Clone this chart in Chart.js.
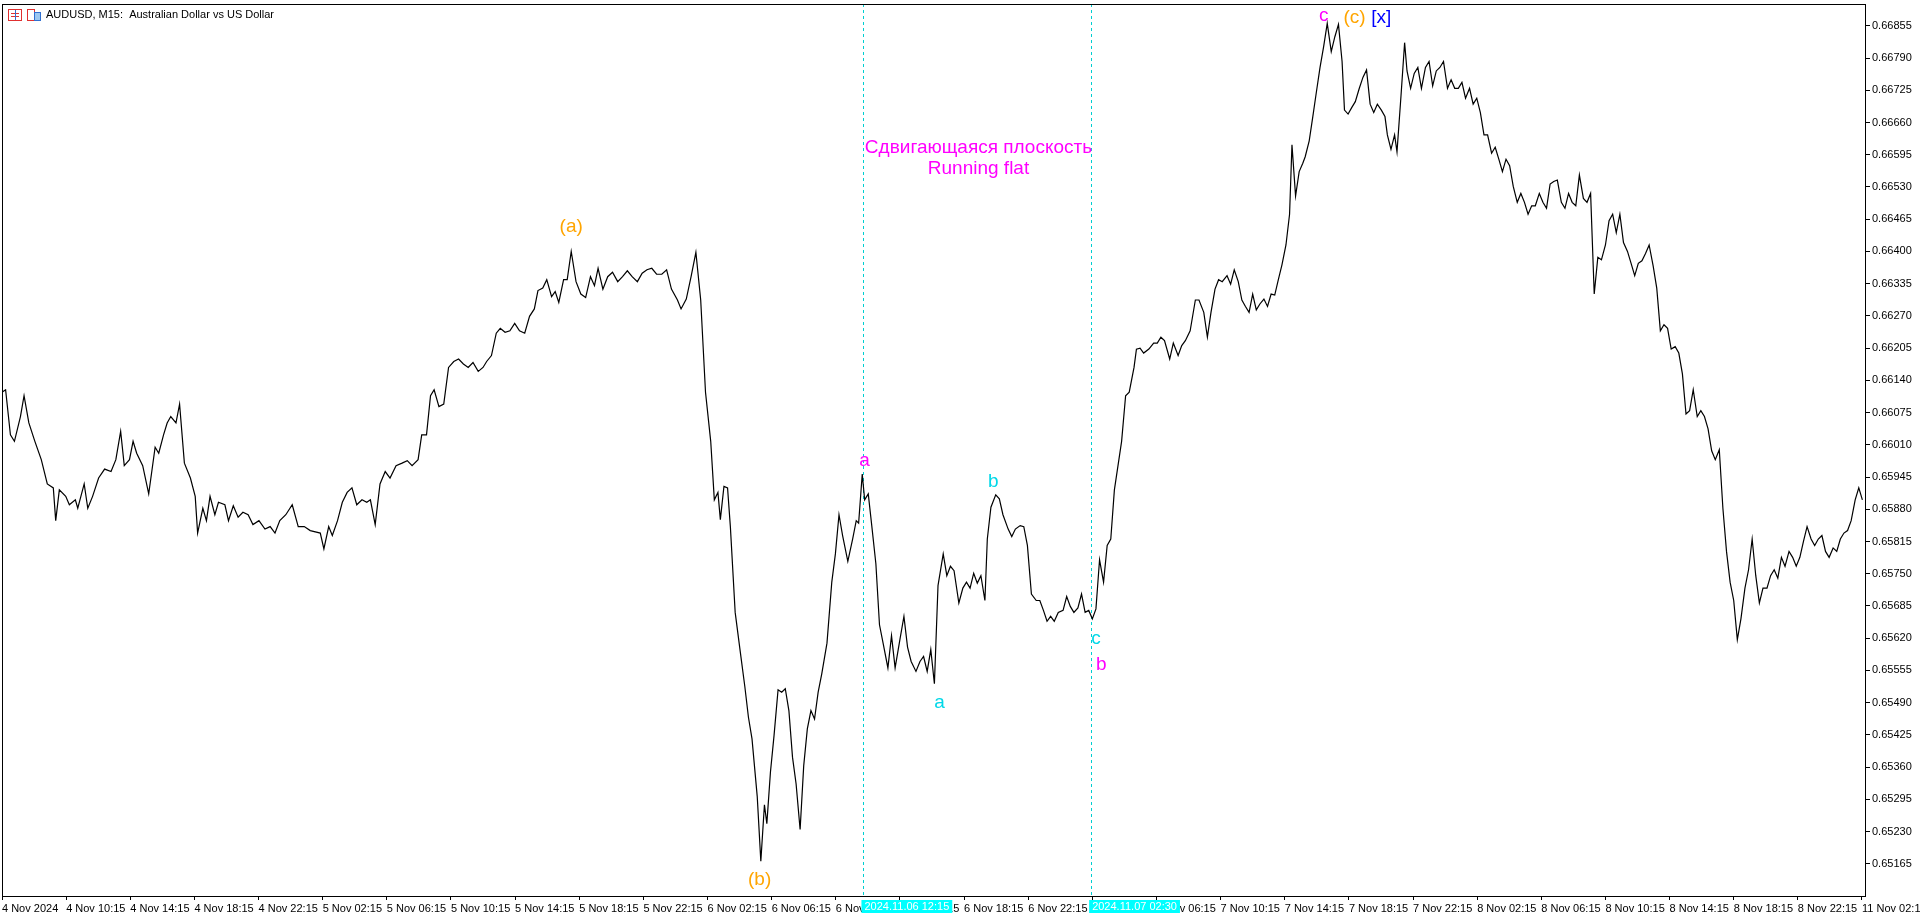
<!DOCTYPE html>
<html><head><meta charset="utf-8">
<script src="https://cdn.jsdelivr.net/npm/chart.js@4.4.1/dist/chart.umd.min.js"></script>
<style>html,body{margin:0;padding:0;background:#fff;}#wrap{width:1920px;height:920px;position:relative}</style>
</head><body><div id="wrap"><canvas id="c" width="1920" height="920"></canvas></div>
<script>
// bar index (M15 bars from chart start)
const barIdx = [0,0.9,2.1,3.1,4.6,5.5,6.7,8.2,9.8,11.3,12.8,13.4,14.3,15.9,16.8,18.3,18.9,20.5,21.4,22.6,24.1,25.6,27.2,28.4,29.6,30.5,31.8,32.7,33.6,35.1,36.6,38.2,39.1,40.3,41.2,42.1,43.4,44.3,45.5,47.0,48.2,48.8,50.1,51.0,51.9,53.1,54.0,55.6,56.5,57.7,58.9,60.1,61.4,62.6,64.1,65.6,66.9,68.1,69.3,70.8,72.4,73.9,75.4,76.9,79.4,80.3,81.5,82.4,83.7,84.9,86.1,87.3,88.5,89.8,91.0,91.9,93.1,94.3,95.6,96.8,98.3,99.8,101.1,102.3,103.8,104.7,105.9,106.9,107.8,109.0,110.2,111.4,112.7,113.9,115.1,116.3,117.5,118.8,120.0,120.9,122.1,123.3,124.3,125.5,126.7,127.9,129.1,130.4,131.6,132.8,133.7,134.9,135.9,137.1,138.0,138.9,140.1,141.0,142.0,143.2,144.4,145.6,146.8,147.8,148.7,149.9,151.1,152.3,153.6,154.8,156.0,157.2,158.5,159.7,160.9,162.1,163.3,164.6,165.8,167.0,168.5,169.4,170.7,171.9,173.1,174.3,175.5,176.8,177.7,178.6,179.2,180.1,181.0,181.7,182.9,184.1,185.3,186.2,187.1,188.4,189.3,190.2,190.8,191.7,192.6,193.6,194.5,195.4,196.3,197.2,198.1,199.1,200.0,200.9,201.8,202.7,203.6,204.5,205.8,207.0,207.9,208.8,209.7,211.0,212.2,213.1,213.7,214.6,215.2,216.1,217.0,218.0,218.9,219.8,221.0,221.9,222.8,224.1,225.0,225.9,226.8,228.0,229.0,229.9,230.8,231.7,232.6,233.5,234.8,235.7,236.6,237.5,238.7,239.7,240.6,241.5,242.4,243.3,244.2,245.2,245.8,246.7,247.9,248.8,249.7,251.0,251.9,252.8,254.0,254.9,255.8,256.8,258.0,258.9,259.8,260.7,261.6,262.5,263.5,264.7,265.6,266.5,267.4,268.4,269.3,270.2,271.1,272.0,272.9,273.8,274.8,275.7,276.6,277.5,278.4,279.3,280.3,281.2,282.4,283.0,283.9,284.8,286.1,287.3,288.2,289.1,290.0,291.3,292.2,293.4,294.3,295.2,296.4,297.7,298.6,299.8,300.7,301.6,302.6,303.5,304.4,305.6,306.5,307.4,308.4,309.3,310.2,311.1,312.0,312.9,313.8,314.8,315.7,316.6,317.5,318.4,319.3,320.3,321.2,321.8,322.7,323.6,324.5,325.1,326.1,327.0,327.9,328.8,329.7,330.6,331.6,332.5,333.4,334.3,334.9,335.8,336.7,337.6,338.6,339.5,340.4,341.3,342.2,343.1,344.1,345.0,345.6,346.5,347.4,348.0,349.0,349.9,350.5,351.4,352.3,353.2,354.1,355.1,356.0,356.9,357.8,358.7,359.6,360.6,361.5,362.4,363.3,364.2,365.1,366.1,367.0,367.9,368.8,369.7,370.6,371.6,372.5,373.4,374.3,375.2,376.1,377.0,378.0,378.9,379.8,380.7,381.6,382.5,383.5,384.4,385.3,386.2,387.1,388.0,389.0,389.9,390.8,391.7,392.6,393.5,394.5,395.4,396.3,397.2,398.1,399.0,400.0,400.9,401.8,402.7,403.6,404.5,405.5,406.4,407.3,408.2,409.1,410.0,410.9,411.9,412.8,413.7,414.6,415.5,416.4,417.4,418.3,419.2,420.1,421.0,421.9,422.9,423.8,424.7,425.6,426.5,427.4,428.4,429.3,430.2,431.1,432.0,432.9,433.8,434.8,435.7,436.6,437.5,438.4,439.3,440.3,441.2,442.1,443.0,443.9,444.8,445.8,446.7,447.6,448.5,449.4,450.3,451.3,452.2,453.1,454.0,454.9,455.8,456.8,457.7,458.6,459.5,460.4,461.3,462.3,463.2,464.1];
// close prices (x 1e-5)
const closes = [66116,66121,66030,66017,66067,66109,66054,66017,65980,65931,65923,65857,65919,65906,65889,65899,65882,65931,65882,65906,65943,65961,65956,65980,66037,65968,65980,66017,65993,65968,65911,66005,65993,66030,66054,66067,66054,66092,65973,65943,65906,65832,65882,65857,65906,65869,65894,65889,65857,65887,65864,65874,65869,65849,65857,65840,65845,65832,65857,65869,65889,65845,65845,65837,65832,65800,65845,65827,65857,65894,65914,65923,65889,65899,65894,65899,65849,65931,65956,65943,65968,65973,65978,65968,65980,66030,66030,66109,66121,66087,66092,66166,66178,66183,66173,66166,66176,66158,66166,66178,66190,66235,66245,66237,66240,66255,66240,66235,66269,66284,66321,66326,66343,66309,66319,66297,66343,66343,66400,66339,66314,66307,66349,66331,66366,66324,66349,66358,66339,66349,66361,66349,66339,66356,66363,66366,66354,66354,66363,66324,66302,66284,66304,66349,66398,66302,66116,66017,65899,65914,65859,65926,65923,65845,65672,65597,65523,65461,65417,65301,65170,65284,65246,65350,65424,65516,65511,65518,65474,65380,65326,65234,65363,65437,65474,65457,65511,65548,65610,65733,65790,65869,65827,65775,65820,65857,65852,65951,65899,65911,65845,65770,65647,65610,65560,65625,65560,65622,65664,65602,65573,65553,65573,65583,65553,65597,65528,65726,65790,65746,65765,65756,65691,65721,65733,65721,65751,65731,65746,65696,65820,65884,65909,65901,65869,65840,65825,65840,65847,65845,65807,65709,65696,65696,65676,65654,65664,65654,65672,65676,65704,65684,65672,65681,65709,65672,65676,65659,65679,65778,65733,65807,65820,65919,65968,66017,66109,66116,66166,66203,66205,66195,66203,66215,66215,66227,66220,66183,66215,66190,66210,66220,66240,66302,66302,66277,66227,66277,66324,66343,66339,66351,66334,66363,66339,66302,66289,66277,66314,66282,66294,66304,66289,66314,66312,66343,66373,66413,66475,66615,66512,66561,66578,66591,66623,66672,66722,66771,66813,66860,66803,66833,66858,66783,66685,66677,66690,66702,66729,66751,66766,66697,66680,66697,66685,66672,66635,66606,66635,66601,66714,66821,66764,66729,66759,66771,66729,66771,66783,66734,66764,66771,66783,66729,66746,66729,66729,66741,66709,66729,66697,66709,66680,66635,66635,66598,66610,66586,66561,66586,66573,66531,66499,66517,66499,66475,66492,66492,66517,66499,66487,66536,66541,66544,66499,66487,66517,66499,66492,66554,66507,66499,66517,66314,66388,66383,66413,66462,66475,66438,66475,66418,66400,66376,66351,66376,66381,66396,66413,66371,66326,66240,66252,66245,66203,66208,66195,66153,66072,66079,66121,66067,66079,66067,66042,65998,65980,66000,65882,65795,65733,65696,65617,65659,65721,65758,65820,65746,65691,65721,65721,65746,65758,65741,65783,65765,65795,65783,65765,65783,65815,65845,65820,65807,65820,65827,65795,65783,65802,65795,65820,65832,65837,65857,65899,65923,65899];
const timeLabels = ["4 Nov 2024","4 Nov 10:15","4 Nov 14:15","4 Nov 18:15","4 Nov 22:15","5 Nov 02:15","5 Nov 06:15","5 Nov 10:15","5 Nov 14:15","5 Nov 18:15","5 Nov 22:15","6 Nov 02:15","6 Nov 06:15","6 Nov 10:15","6 Nov 14:15","6 Nov 18:15","6 Nov 22:15","7 Nov 02:15","7 Nov 06:15","7 Nov 10:15","7 Nov 14:15","7 Nov 18:15","7 Nov 22:15","8 Nov 02:15","8 Nov 06:15","8 Nov 10:15","8 Nov 14:15","8 Nov 18:15","8 Nov 22:15","11 Nov 02:15"];
const priceTicks = [0.65165,0.65230,0.65295,0.65360,0.65425,0.65490,0.65555,0.65620,0.65685,0.65750,0.65815,0.65880,0.65945,0.66010,0.66075,0.66140,0.66205,0.66270,0.66335,0.66400,0.66465,0.66530,0.66595,0.66660,0.66725,0.66790,0.66855];
// wave labels: [text, bar, price, color]
const waveLabels = [["(a)",142,0.66450,"#FFA500"],["(b)",189,0.65133,"#FFA500"],["a",215.2,0.65978,"#FF00FF"],["b",247.3,0.65936,"#00D8E8"],["a",233.9,0.65489,"#00D8E8"],["c",272.9,0.65619,"#00D8E8"],["b",274.2,0.65567,"#FF00FF"],["c",329.7,0.66875,"#FF00FF"],["(c)",337.4,0.66872,"#FFA500"],["[x]",344.1,0.66872,"#0000FF"],["Сдвигающаяся плоскость",243.6,0.66610,"#FF00FF"],["Running flat",243.6,0.66566,"#FF00FF"]];
const vLines = [[214.9,"2024.11.06 12:15"],[271.7,"2024.11.07 02:30"]];

const pts = barIdx.slice(0, Math.min(barIdx.length, closes.length)).map((b,i)=>({x:b,y:closes[i]/1e5}));
const FONT = "'Liberation Sans', Arial, sans-serif";

const deco = {
  id:'deco',
  beforeDatasetsDraw(ch){
    const {ctx, chartArea:a, scales:{x,y}} = ch;
    ctx.save();
    ctx.strokeStyle='#00CED1'; ctx.setLineDash([3,3]); ctx.lineWidth=1;
    vLines.forEach(v=>{const px=Math.round(x.getPixelForValue(v[0]))+0.5;ctx.beginPath();ctx.moveTo(px,a.top);ctx.lineTo(px,a.bottom);ctx.stroke();});
    ctx.restore();
  },
  afterDraw(ch){
    const {ctx, chartArea:a, scales:{x,y}} = ch;
    ctx.save();
    ctx.strokeStyle='#000'; ctx.lineWidth=1;
    ctx.strokeRect(a.left+0.5,a.top+0.5,a.right-a.left-1,a.bottom-a.top);
    ctx.font="19px "+FONT; ctx.textAlign='center'; ctx.textBaseline='middle';
    waveLabels.forEach(l=>{ctx.fillStyle=l[3];ctx.fillText(l[0],x.getPixelForValue(l[1]),y.getPixelForValue(l[2]));});
    ctx.font="11px "+FONT; ctx.textAlign='left'; ctx.fillStyle='#000';
    ctx.fillText("AUDUSD, M15:  Australian Dollar vs US Dollar",46,15);
    ctx.strokeStyle='#e03030'; ctx.strokeRect(8.5,9.5,13,11);
    ctx.beginPath();ctx.moveTo(11,13.5);ctx.lineTo(19,13.5);ctx.moveTo(11,16.5);ctx.lineTo(19,16.5);ctx.stroke();
    ctx.strokeStyle='#3070d0'; ctx.beginPath();ctx.moveTo(15.5,10);ctx.lineTo(15.5,20);ctx.stroke();
    ctx.strokeStyle='#e03030'; ctx.strokeRect(27.5,9.5,7,11);
    ctx.fillStyle='#9cc8f0'; ctx.fillRect(34,12,6,9); ctx.strokeStyle='#3070d0'; ctx.strokeRect(34.5,12.5,6,8);
    ctx.font="11px "+FONT; ctx.textBaseline='middle';
    vLines.forEach(v=>{const px=x.getPixelForValue(v[0]);const w=ctx.measureText(v[1]).width+6;
      ctx.fillStyle='#00FFFF';ctx.fillRect(px-2,a.bottom+4,w,13);ctx.fillStyle='#fff';ctx.fillText(v[1],px+1,a.bottom+11);});
    ctx.restore();
  }
};

new Chart(document.getElementById('c'),{
  type:'line',
  data:{datasets:[{data:pts,borderColor:'#000',borderWidth:1.2,pointRadius:0,tension:0,fill:false}]},
  options:{
    responsive:false,animation:false,
    layout:{autoPadding:false,padding:{left:2,top:4,right:0,bottom:0}},
    plugins:{legend:{display:false},tooltip:{enabled:false}},
    scales:{
      x:{type:'linear',min:0,max:465,
        afterBuildTicks(s){s.ticks=timeLabels.map((t,i)=>({value:i*16}));},
        afterFit(s){s.height=24;s.paddingLeft=0;s.paddingRight=0;},
        grid:{drawOnChartArea:false,tickLength:4,color:'#000'},border:{display:false},
        ticks:{autoSkip:false,maxRotation:0,align:'start',padding:2,color:'#000',font:{family:FONT,size:11},
          callback:(v)=>timeLabels[Math.round(v/16)]}},
      y:{position:'right',min:0.65100,max:0.66899,
        afterBuildTicks(s){s.ticks=priceTicks.map(v=>({value:v}));},
        afterFit(s){s.width=54;s.paddingTop=0;s.paddingBottom=0;},
        grid:{drawOnChartArea:false,tickLength:4,color:'#000'},border:{display:false},
        ticks:{padding:2,color:'#000',font:{family:FONT,size:11},callback:(v)=>Number(v).toFixed(5)}}
    }
  },
  plugins:[deco]
});
</script></body></html>
